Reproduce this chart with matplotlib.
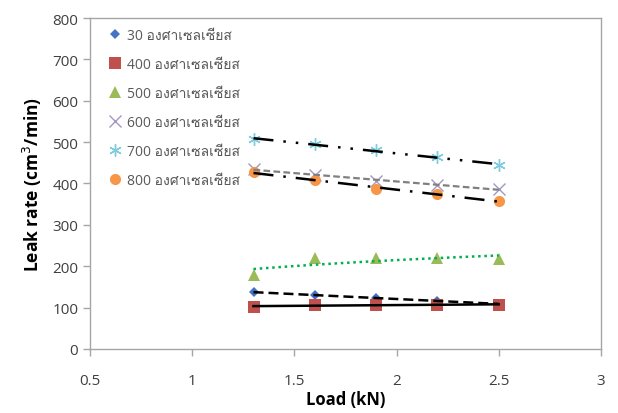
import matplotlib
matplotlib.use("Agg")
import matplotlib.pyplot as plt
import numpy as np
from matplotlib import font_manager

# pick a font that has Thai glyphs
thai_font = None
try:
    from fontTools.ttLib import TTFont
    for f in font_manager.fontManager.ttflist:
        try:
            tt = TTFont(f.fname, fontNumber=0, lazy=True)
            cmap = tt.getBestCmap()
            if cmap and 0x0E2D in cmap and 0x0E28 in cmap:
                thai_font = f.name
                break
        except Exception:
            pass
except Exception:
    pass

fams = ([thai_font] if thai_font else []) + ['DejaVu Sans']
plt.rcParams['font.family'] = ['Open Sans'] + fams

load = [1.3, 1.6, 1.9, 2.2, 2.5]
temps = ["30", "400", "500", "600", "700", "800"]
unit = " องศาเซลเซียส"
s30 = [137, 131, 123, 116, 109]
s400 = [102, 106, 107, 107, 107]
s500 = [179, 220, 220, 219, 217]
s600 = [435, 420, 407, 397, 386]
s700 = [507, 495, 480, 464, 444]
s800 = [427, 408, 387, 375, 357]

series = [s30, s400, s500, s600, s700, s800]
markers = ['D', 's', '^', 'x', (6, 2, 0), 'o']
colors = ['#4472C4', '#C0504D', '#9BBB59', '#A497C4', '#7FCCDD', '#F79646']
msizes = [5, 8, 8, 8, 9, 8]

fig = plt.figure(figsize=(6.18, 4.14), dpi=100)
ax = fig.add_axes([0.1456, 0.1546, 0.8269, 0.7995])

x = np.array(load)
xs = np.linspace(1.3, 2.5, 50)
for i, (s, m, c, ms) in enumerate(zip(series, markers, colors, msizes)):
    if m in ('x',) or isinstance(m, tuple):
        ax.plot(x, s, linestyle='none', marker=m, color=c, markersize=ms,
                markeredgewidth=1.0, label=temps[i] + unit, zorder=3)
    else:
        ax.plot(x, s, linestyle='none', marker=m, color=c, markersize=ms,
                markeredgewidth=0, label=temps[i] + unit, zorder=3)

# trendlines
def lin(s):
    p = np.polyfit(x, s, 1)
    return np.polyval(p, xs)

ax.plot(xs, lin(s30), color='black', lw=1.8, ls=(0, (4, 2)), zorder=4)
ax.plot(xs, lin(s400), color='black', lw=1.8, ls='-', zorder=4)
pl = np.polyfit(np.log(x), s500, 1)
ax.plot(xs, np.polyval(pl, np.log(xs)), color='#00B050', lw=1.8, ls=(0, (1, 1.5)), zorder=4)
ax.plot(xs, lin(s600), color='#808080', lw=1.6, ls=(0, (3, 1.5)), zorder=4)
ax.plot(xs, lin(s700), color='black', lw=1.8, ls=(0, (8, 4, 1, 4, 1, 4)), zorder=4)
ax.plot(xs, lin(s800), color='black', lw=1.8, ls=(0, (8, 4, 1, 4)), zorder=4)

ax.set_xlim(0.5, 3)
ax.set_ylim(0, 800)
ax.set_xticks([0.5, 1, 1.5, 2, 2.5, 3])
ax.set_xticklabels(['0.5', '1', '1.5', '2', '2.5', '3'])
ax.set_yticks(range(0, 801, 100))
for sp in ax.spines.values():
    sp.set_color('#A6A6A6')
    sp.set_linewidth(1.0)
ax.tick_params(axis='both', colors='#A6A6A6', labelcolor='#404040',
               labelsize=11, length=5, width=1, direction='out')
ax.tick_params(axis='x', pad=12)
ax.set_xlabel('Load (kN)', fontsize=12, fontweight='bold', labelpad=2)
ax.set_ylabel('Leak rate (cm$^3$/min)', fontsize=12.5, fontweight='bold', labelpad=6)

leg = ax.legend(loc='upper left', bbox_to_anchor=(0.005, 1.015), frameon=False,
                fontsize=10, handletextpad=0.35, labelspacing=1.0,
                handlelength=1.0, borderpad=0.6, labelcolor='#595959')

fig.savefig('out.png', dpi=100)
